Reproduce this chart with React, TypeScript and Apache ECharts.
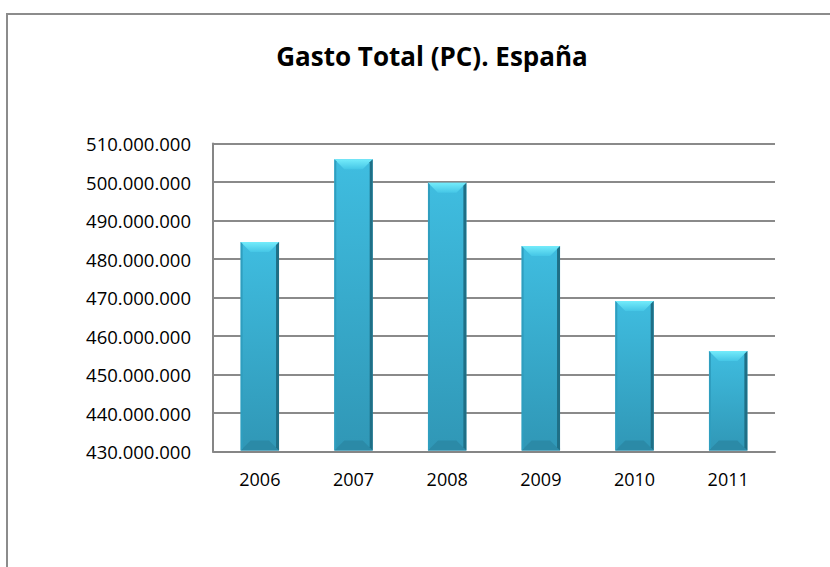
import React, { useEffect, useRef } from "react";
import * as echarts from "echarts";

const years = ["2006", "2007", "2008", "2009", "2010", "2011"];
const gasto = [484400000, 505900000, 499800000, 483400000, 469100000, 456100000];
const yMin = 430000000;
const yMax = 510000000;
const yStep = 10000000;

const fmt = (v: number) => String(Math.round(v)).replace(/\B(?=(\d{3})+(?!\d))/g, ".");

export default function App() {
  const ref = useRef<HTMLDivElement>(null);
  useEffect(() => {
    const chart = echarts.init(ref.current!, null, { renderer: "svg" });
    const font = "'Open Sans', 'Noto Sans', sans-serif";
    chart.setOption({
      animation: false,
      backgroundColor: "#ffffff",
      title: {
        text: "Gasto Total (PC). España",
        left: 427,
        top: 38,
        textAlign: "center",
        textStyle: { fontFamily: font, fontWeight: "bold", fontSize: 26, color: "#000" },
      },
      graphic: [
        {
          type: "rect",
          shape: { x: 7, y: 14, width: 900, height: 700 },
          style: { fill: "none", stroke: "#8c8c8c", lineWidth: 2 },
          silent: true,
        },
      ],
      grid: { left: 213, right: 55, top: 143.5, bottom: 115.5 },
      xAxis: {
        type: "category",
        data: years,
        boundaryGap: true,
        axisLine: { show: true, lineStyle: { color: "#868686", width: 2 } },
        axisTick: { show: false },
        axisLabel: { fontFamily: font, fontSize: 18, color: "#000", margin: 18 },
      },
      yAxis: {
        type: "value",
        min: yMin,
        max: yMax,
        interval: yStep,
        axisLine: { show: true, lineStyle: { color: "#868686", width: 2 } },
        axisTick: { show: false },
        axisLabel: { fontFamily: font, fontSize: 18.5, color: "#000", margin: 22, formatter: (v: number) => fmt(v) },
        splitLine: { show: true, lineStyle: { color: "#8a8a8a", width: 2 } },
      },
      series: [
        {
          type: "custom",
          data: gasto.map((v, i) => [i, v]),
          encode: { x: 0, y: 1 },
          renderItem: (params: any, api: any) => {
            const i = api.value(0);
            const v = api.value(1);
            const top = api.coord([i, v]);
            const base = api.coord([i, yMin]);
            const bw = api.size([1, 0])[0] * 0.41;
            const x0 = top[0] - bw / 2;
            const x1 = top[0] + bw / 2;
            const y0 = top[1];
            const y1 = base[1] - 1;
            const b = 10;
            const bodyGrad = new echarts.graphic.LinearGradient(0, 0, 0, 1, [
              { offset: 0, color: "#3fbde0" },
              { offset: 1, color: "#3097b6" },
            ]);
            const topGrad = new echarts.graphic.LinearGradient(0, 0, 0, 1, [
              { offset: 0, color: "#74ecfb" },
              { offset: 1, color: "#45c6e6" },
            ]);
            return {
              type: "group",
              children: [
                {
                  type: "rect",
                  shape: { x: x0, y: y0, width: x1 - x0, height: y1 - y0 },
                  style: { fill: bodyGrad },
                },
                {
                  type: "polygon",
                  shape: { points: [[x0, y0], [x1, y0], [x1 - b, y0 + b], [x0 + b, y0 + b]] },
                  style: { fill: topGrad },
                },
                {
                  type: "polygon",
                  shape: { points: [[x0, y1], [x1, y1], [x1 - b, y1 - b], [x0 + b, y1 - b]] },
                  style: { fill: "#2b8aa7" },
                },
                {
                  type: "polygon",
                  shape: { points: [[x1, y0], [x1, y1], [x1 - 3, y1 - 3], [x1 - 3, y0 + 3]] },
                  style: { fill: "#1f6f86" },
                },
                {
                  type: "polygon",
                  shape: { points: [[x0, y0], [x0, y1], [x0 + 2, y1 - 2], [x0 + 2, y0 + 2]] },
                  style: { fill: "#2f9ebf" },
                },
              ],
            };
          },
        },
      ],
    });
    return () => chart.dispose();
  }, []);
  return <div ref={ref} style={{ position: "fixed", left: 0, top: 0, width: 830, height: 567 }} />;
}
